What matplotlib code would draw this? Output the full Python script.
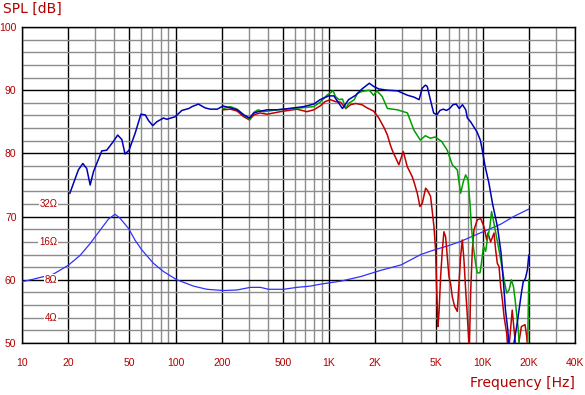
import numpy as np
import matplotlib
matplotlib.use("Agg")
import matplotlib.pyplot as plt
from matplotlib.ticker import FixedLocator, NullFormatter

# ---------------- data ----------------
freq_blue = [20.5, 23.3, 24.9, 26.4, 27.8, 29.2, 33.1, 35.6, 39.4, 42.0, 44.7, 46.9, 49.8,
             54.6, 59.5, 63.5, 66.7, 71.1, 75.5, 83.5, 87.8, 99.4, 110, 122, 128, 141, 156,
             168, 187, 204, 228, 252, 278, 303, 324, 345, 395, 459, 506, 587, 683, 795, 874,
             994, 1075, 1223, 1340, 1490, 1640, 1830, 1950, 2110, 2400, 2790, 3245, 3580,
             3860, 4040, 4240, 4360, 4570, 4800, 5040, 5280, 5540, 5820, 6100, 6410, 6730,
             7050, 7400, 7770, 7960, 8360, 8770, 9200, 9670, 9910, 10400, 11000, 11600,
             12500, 13200, 13700, 14100, 14600, 15000, 15900, 16800, 17900, 18400, 19000,
             19600, 20000]
spl_blue = [73.7, 77.4, 78.4, 77.6, 75.0, 77.1, 80.4, 80.5, 81.9, 82.9, 82.2, 79.9, 80.5,
            83.2, 86.2, 86.1, 85.2, 84.4, 85.0, 85.6, 85.4, 85.8, 86.8, 87.1, 87.4, 87.8, 87.2,
            87.0, 87.0, 87.5, 87.2, 86.9, 86.1, 85.6, 86.4, 86.6, 86.9, 86.9, 87.0, 87.2, 87.4,
            87.8, 88.5, 89.1, 89.1, 87.1, 88.5, 89.2, 90.2, 91.1, 90.6, 90.2, 90.0, 89.9, 89.2,
            88.9, 88.5, 90.3, 90.8, 90.6, 88.5, 86.4, 86.1, 86.8, 87.0, 86.8, 87.1, 87.7, 87.8,
            87.1, 87.7, 86.9, 85.6, 85.0, 84.2, 83.4, 82.1, 80.8, 77.9, 75.3, 72.1,
            68.4, 64.2, 59.4, 55.2, 52.1, 48.0, 49.5, 53.1, 57.9, 59.7, 60.2,
            61.6, 63.9]

freq_green = [204, 228, 252, 278, 303, 324, 345, 375, 459, 587, 795, 874, 969, 1063, 1100,
              1160, 1223, 1285, 1340, 1460, 1530, 1640, 1830, 1950, 2050, 2220, 2400, 2790,
              3240, 3570, 3930, 4240, 4570, 4910, 5410, 5890, 6350, 6845, 7195, 7490, 7760,
              8050, 8280, 8460, 8700, 9000, 9245, 9620, 9830, 10140, 10470, 10730, 11160,
              11440, 11870, 12320, 12800, 13250, 13800, 14360, 14880, 15410, 15900, 16300,
              16740, 17090, 17450, 19600, 20000]
spl_green = [87.1, 87.4, 87.0, 86.1, 85.4, 86.5, 86.9, 86.6, 86.9, 87.1, 87.4, 88.1, 89.2,
             89.9, 89.0, 88.5, 88.6, 87.1, 87.9, 88.5, 89.5, 89.8, 90.0, 89.2, 89.9, 89.0,
             87.1, 86.9, 86.4, 83.7, 82.1, 82.8, 82.4, 82.6, 81.9, 80.5, 78.2, 77.4, 73.7,
             75.5, 76.6, 75.8, 72.1, 68.4, 65.3, 62.6, 61.1, 61.1, 62.6, 65.3, 64.5, 66.3,
             68.4, 70.8, 68.9, 66.8, 64.7, 62.6, 60.0, 57.9, 58.4, 60.0, 58.9, 56.8, 54.2,
             52.1, 48.0, 48.0, 60.0]

freq_red = [204, 228, 252, 278, 303, 324, 355, 395, 481, 617, 718, 795, 874, 944, 1020, 1100,
            1190, 1285, 1380, 1490, 1640, 1770, 1950, 2110, 2290, 2400, 2510, 2580, 2849,
            3043, 3233, 3484, 3573, 3757, 3907, 4049, 4256, 4365, 4585, 4705, 4823, 4945,
            5020, 5120, 5200, 5330, 5470, 5600, 5745, 5890, 6040, 6190, 6350, 6575, 6845,
            7020, 7195, 7380, 7565, 7760, 7960, 8200, 8360, 8575, 8790, 9245, 9720, 10210,
            10640, 10840, 11290, 11870, 12170, 12480, 12800, 13120, 13460, 13800, 14360,
            14700, 15600, 16200, 16700, 17900, 18900, 19400, 19800]
spl_red = [86.9, 87.0, 86.7, 85.8, 85.3, 86.1, 86.4, 86.2, 86.6, 87.0, 86.6, 86.9, 87.5,
           88.2, 88.5, 88.2, 88.1, 87.1, 87.7, 87.9, 87.7, 87.2, 86.7, 85.6, 84.0, 82.9,
           81.3, 80.5, 78.2, 80.3, 77.9, 76.3, 75.5, 73.7, 71.6, 72.1, 74.5, 74.2, 73.2,
           70.8, 68.4, 64.7, 58.9, 52.6, 54.7, 60.5, 64.7, 67.6, 66.8, 63.7, 60.5, 59.4,
           57.3, 55.8, 55.0, 59.4, 63.7, 66.3, 63.1, 58.4, 54.2, 49.0, 57.9, 64.7, 67.9,
           69.5, 69.7, 68.4, 66.3, 67.4, 66.0, 67.4, 64.7, 62.6, 62.1, 58.9, 56.8, 54.2,
           51.5, 48.0, 55.2, 51.0, 48.0, 52.6, 52.9, 51.0, 48.0]

freq_imp = [10, 11.85, 16.0, 20.0, 23.9, 27.8, 32.3, 36.6, 40.4, 43.6, 49.4, 54.6, 60.3,
            71.8, 83.5, 102, 131, 160, 205, 252, 307, 357, 404, 506, 617, 755, 874, 1200,
            1600, 2170, 2950, 3970, 4940, 5900, 7200, 8800, 10700, 13100, 15900, 20000]
imp_ohm = [7.73, 8.09, 8.87, 10.42, 12.48, 15.5, 19.8, 24.2, 26.4, 24.5, 20.4, 16.4, 13.8,
           10.8, 9.3, 8.0, 7.13, 6.73, 6.58, 6.65, 6.97, 6.97, 6.73, 6.73, 6.97, 7.13, 7.38,
           7.82, 8.47, 9.5, 10.5, 12.7, 13.9, 14.8, 16.1, 17.9, 19.8, 22.0, 25.3, 29.0]

x_major = [10, 20, 50, 100, 200, 500, 1000, 2000, 5000, 10000, 20000, 40000]
x_major_labels = ["10", "20", "50", "100", "200", "500", "1K", "2K", "5K", "10K", "20K", "40K"]
x_minor = [30, 40, 60, 70, 80, 90, 300, 400, 600, 700, 800, 900, 3000, 4000, 6000, 7000,
           8000, 9000, 30000]
y_major = [50, 60, 70, 80, 90, 100]
ohm_labels = [4, 8, 16, 32]

# ---------------- figure ----------------
TXT = "#B00000"
TICKFONT = ["Liberation Sans", "DejaVu Sans"]
fig = plt.figure(figsize=(5.85, 3.95), dpi=100)
ax = fig.add_axes([22 / 585, 1 - 343 / 395, 553 / 585, 316 / 395])
ax.set_xscale("log")
ax.set_xlim(10, 40000)
ax.set_ylim(50, 100)

ax.xaxis.set_major_locator(FixedLocator(x_major))
ax.xaxis.set_minor_locator(FixedLocator(x_minor))
ax.xaxis.set_minor_formatter(NullFormatter())
ax.set_xticklabels(x_major_labels)
ax.yaxis.set_major_locator(FixedLocator(y_major))
ax.yaxis.set_minor_locator(FixedLocator(list(range(50, 101, 2))))
ax.yaxis.set_minor_formatter(NullFormatter())

ax.tick_params(which="both", length=0)
ax.tick_params(axis="x", pad=11, labelsize=7.5, labelcolor=TXT)
ax.tick_params(axis="y", pad=4, labelsize=7.5, labelcolor=TXT)
for lab in ax.get_xticklabels() + ax.get_yticklabels():
    lab.set_family(TICKFONT)

ax.grid(which="minor", color="#8c8c8c", lw=1.0, zorder=0)
ax.grid(which="major", color="black", lw=1.0, zorder=1)
ax.set_axisbelow(True)
for s in ax.spines.values():
    s.set_color("black")
    s.set_linewidth(1.0)

# impedance curve mapped on the dB axis: 8 ohm -> 60 dB, 6 dB per doubling
imp_db = 60 + 20 * np.log10(np.array(imp_ohm) / 8.0)
ax.plot(freq_imp, imp_db, color="#3030FF", lw=0.9, zorder=3)

ax.plot(freq_red, spl_red, color="#C00000", lw=1.1, zorder=4)
ax.plot(freq_green, spl_green, color="#00A000", lw=1.1, zorder=5)
ax.plot(freq_blue, spl_blue, color="#0000B8", lw=1.1, zorder=6)

for z in ohm_labels:
    ax.text(17.0, 60 + 20 * np.log10(z / 8.0), f"{z}\u03a9", ha="right", va="center",
            fontsize=7, color=TXT, zorder=7, family=TICKFONT,
            bbox=dict(facecolor="white", edgecolor="none", pad=0.6))

fig.text(3 / 585, 1 - 9 / 395, "SPL [dB]", ha="left", va="center", fontsize=10, color=TXT)
fig.text(575 / 585, 1 - 383 / 395, "Frequency [Hz]", ha="right", va="center",
         fontsize=10, color=TXT)

fig.savefig("out.png", dpi=100)
